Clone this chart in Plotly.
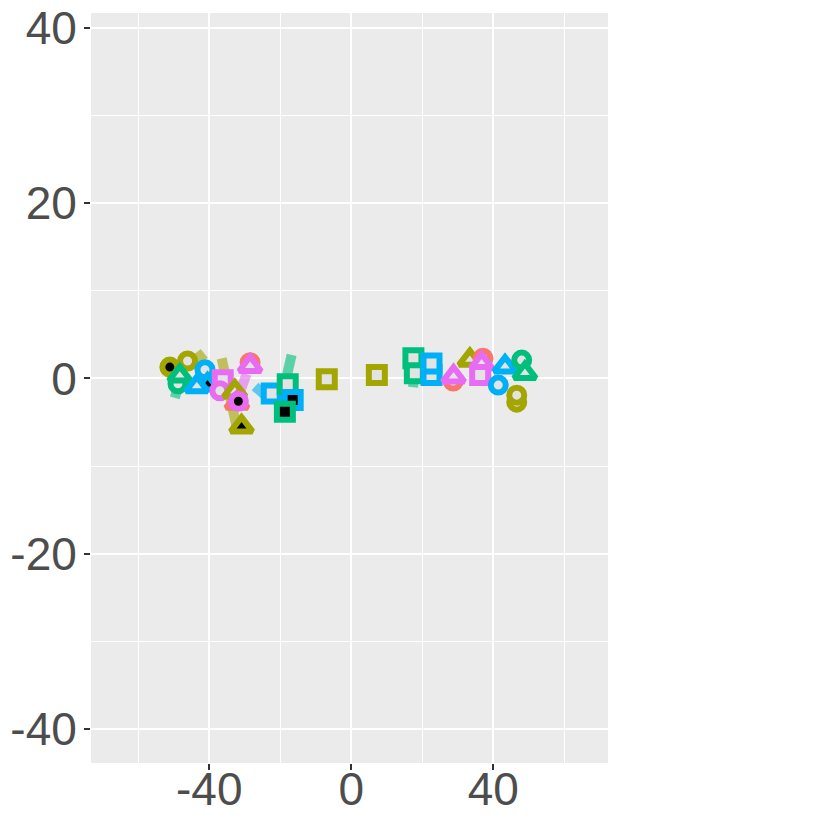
import plotly.graph_objects as go

# ---- data ----
groups = ["A", "B", "C", "D", "E"]
palette = {"A": "#F8766D", "B": "#A3A500", "C": "#00BF7D", "D": "#00B0F6", "E": "#E76BF3"}

# points
pt_x = [-51.1, -46.1, -48.8, -48.3, -41.2, -40.5, -43.5, -28.5, -36.2, -37.0, -32.8,
        -28.5, -32.2, -31.8, -30.9, -22.4, -17.9, -16.5, -18.7, -6.9, 7.2,
        17.5, 17.9, 22.6, 22.6, 28.7, 28.8, 33.4, 37.1, 36.7, 36.3,
        43.3, 41.4, 48.0, 48.9, 46.6, 46.6]
pt_y = [1.3, 2.0, -0.6, 0.3, 1.0, -0.7, -0.9, 1.8, -0.2, -1.4, -1.5,
        1.4, -2.8, -2.6, -5.5, -1.7, -0.66, -2.45, -3.8, -0.1, 0.4,
        2.3, 0.6, 0.4, 1.7, -0.3, 0.2, 2.1, 2.3, 1.7, 0.4,
        1.35, -0.75, 2.1, 0.6, -2.7, -1.9]
pt_group = ["B", "B", "C", "C", "D", "D", "D", "A", "E", "E", "B",
            "E", "A", "E", "B", "D", "C", "D", "C", "B", "B",
            "C", "C", "D", "D", "A", "E", "B", "A", "E", "E",
            "D", "D", "C", "C", "B", "B"]
pt_shape = ["circle", "circle", "circle", "triangle", "circle", "triangle", "triangle", "circle", "square", "circle", "triangle",
            "triangle", "triangle", "circle", "triangle", "square", "square", "square", "square", "square", "square",
            "square", "square", "square", "square", "circle", "triangle", "triangle", "circle", "triangle", "square",
            "triangle", "circle", "circle", "triangle", "circle", "circle"]
pt_black = [1, 0, 0, 0, 0, 1, 0, 0, 0, 0, 0,
            0, 1, 1, 1, 0, 0, 1, 1, 0, 0,
            0, 0, 0, 0, 0, 0, 0, 0, 0, 0,
            0, 0, 0, 0, 0, 0]

# segments
seg_x0 = [-36.5, -43.5, -16.8, -49.7, -27.1, -32.0, 17.4]
seg_y0 = [2.3, 3.0, 2.7, -2.2, -0.9, -2.3, -1.0]
seg_x1 = [-32.2, -41.5, -18.2, -48.3, -24.3, -29.5, 17.9]
seg_y1 = [-5.7, 2.0, 0.2, -0.2, -1.9, 0.5, 0.9]
seg_group = ["B", "B", "C", "C", "D", "E", "C"]

x_ticks = [-40, 0, 40]
x_tick_labels = ["-40", "0", "40"]
y_ticks = [-40, -20, 0, 20, 40]
y_tick_labels = ["-40", "-20", "0", "20", "40"]

# ---- figure ----
fig = go.Figure()

for x0, y0, x1, y1, g in zip(seg_x0, seg_y0, seg_x1, seg_y1, seg_group):
    fig.add_trace(go.Scatter(x=[x0, x1], y=[y0, y1], mode="lines",
                             line=dict(color=palette[g], width=10),
                             opacity=0.6, showlegend=False, hoverinfo="skip"))

sym_map = {"circle": "circle", "triangle": "triangle-up", "square": "square"}
size_map = {"circle": 15, "triangle": 19, "square": 16}
fig.add_trace(go.Scatter(
    x=pt_x, y=pt_y, mode="markers", showlegend=False,
    marker=dict(
        symbol=[sym_map[s] for s in pt_shape],
        size=[size_map[s] for s in pt_shape],
        opacity=1,
        color=["black" if b else "#E3E3E3" for b in pt_black],
        line=dict(color=[palette[g] for g in pt_group], width=6),
    ),
))

axis_common = dict(
    showgrid=True, gridcolor="white", gridwidth=2,
    zeroline=False, showline=False, automargin=False,
    ticks="outside", ticklen=6, tickwidth=1.5, tickcolor="#333333",
    ticklabeloverflow="allow",
    tickfont=dict(family="Liberation Sans, Arial", size=46, color="#4D4D4D"),
)
fig.update_xaxes(range=[-73.3, 72.3], tickvals=x_ticks, ticktext=x_tick_labels,
                 ticklabelstandoff=-20,
                 minor=dict(tickvals=[-60, -20, 20, 60], showgrid=True, gridcolor="white", gridwidth=1, ticks=""),
                 **axis_common)
fig.update_yaxes(range=[-43.88, 41.71], tickvals=y_ticks, ticktext=y_tick_labels,
                 ticklabelstandoff=-2,
                 minor=dict(tickvals=[-30, -10, 10, 30], showgrid=True, gridcolor="white", gridwidth=1, ticks=""),
                 **axis_common)

fig.update_layout(
    width=831, height=831,
    margin=dict(l=83, r=231, t=5, b=76),
    plot_bgcolor="#EBEBEB", paper_bgcolor="white",
    showlegend=False,
)

fig.write_html("out.html")
